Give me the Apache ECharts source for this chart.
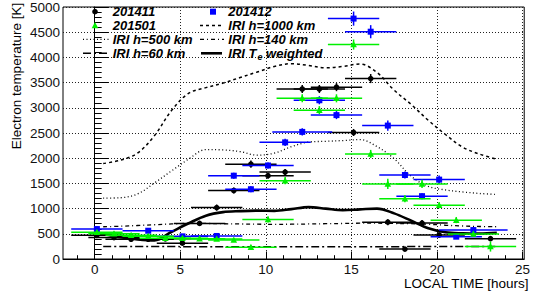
<!DOCTYPE html>
<html><head><meta charset="utf-8">
<script src="https://cdn.jsdelivr.net/npm/echarts@6.0.0/dist/echarts.min.js"></script>
<style>html,body{margin:0;padding:0;background:#fff}#c{width:533px;height:299px}</style>
</head><body><div id="c"></div><script>
// ---- data ----
const hours201411 = [0.13,1.13,2.13,3.13,4.13,5.13,6.13,7.13,8.13,9.13,10.13,11.13,12.13,13.13,14.13,15.13,16.13,17.13,18.13,19.13,20.13,23.13];
const te201411    = [470,425,392,392,400,314,706,1020,1359,1882,1653,1725,3373,3373,3410,2510,3580,731,196,712,476,404];
const xerr201411  = [1.5,1.5,1.5,1.5,1.5,1.5,1.5,1.5,1.5,1.5,1.5,1.5,1.5,1.5,1.5,1.5,1.5,1.5,1.5,1.5,1.5,1.5];
const yerr201411  = [40,40,40,40,40,40,50,60,60,70,60,60,80,80,80,70,90,60,40,60,50,50];

const hours201412 = [0.13,3.13,5.13,7.13,8.13,9.13,10.13,11.13,12.13,13.13,14.13,15.13,16.13,17.13,18.13,19.13,20.13,21.13,22.13];
const te201412    = [594,561,450,457,1653,1384,1855,2314,2522,3150,2855,4770,4510,2647,1667,1247,1575,443,574];
const xerr201412  = [1.5,1.5,1.5,1.5,1.5,1.5,1.5,1.5,1.75,1.5,1.5,1.5,1.5,1.5,1.5,1.5,1.5,1.5,2.0];
const yerr201412  = [50,50,40,40,60,60,60,70,70,80,80,140,130,100,70,60,80,40,50];

const hours201501 = [0.13,1.13,2.13,3.13,4.13,5.13,6.13,7.13,8.13,9.13,10.13,11.13,12.13,13.13,14.13,15.13,16.13,17.13,18.13,19.13,20.13,21.13,22.13,23.13];
const te201501    = [530,500,470,450,412,412,404,398,378,235,784,1555,3188,2953,3188,4255,2085,1490,1196,1490,1065,771,496,247];
const xerr201501  = [1.5,1.5,1.5,1.5,1.5,1.5,1.5,1.5,1.5,1.5,1.5,1.5,1.5,1.5,1.5,1.5,1.5,1.5,1.5,1.5,1.5,1.5,1.5,1.5];
const yerr201501  = [40,40,40,40,40,40,40,40,40,40,60,70,80,80,80,100,80,100,70,80,60,60,50,100];

const iriHours   = [0.5,1.5,2.5,3.5,4.5,5.5,6.5,7.5,8.5,9.5,10.5,11.5,12.5,13.5,14.5,15.5,16.5,17.5,18.5,19.5,20.5,21.5,22.5,23.5];
const iri1000    = [1894,1960,2100,2450,2950,3290,3400,3490,3600,3710,3820,3875,3840,3795,3820,3870,3700,3350,3065,2750,2470,2220,2080,1980];
const iri500     = [1208,1215,1290,1510,1750,1985,2170,2165,2130,2060,2100,2230,2320,2335,2350,2370,2230,1990,1640,1440,1370,1330,1300,1280];
const iri140     = [640,650,665,680,695,705,705,700,695,690,688,690,695,700,705,710,710,705,700,690,670,655,645,640];
const iri60      = [248,247,247,246,246,245,245,245,245,245,245,245,245,245,245,245,245,245,246,246,247,247,248,248];
const iriWeighted= [496,430,390,370,540,710,860,930,950,960,955,990,1030,1000,970,985,1000,905,760,610,530,510,505,520];

const xMajorTicks = [0,5,10,15,20,25];
const xMinorTicks = [-1,1,2,3,4,6,7,8,9,11,12,13,14,16,17,18,19,21,22,23,24];

// ---- chart ----
const FF = '"Liberation Sans", Arial, sans-serif';
const GREEN = '#00f000';
const pairs = (xs, ys) => xs.map((x, i) => [x, ys[i]]);

function errSeries(name, xs, ys, exs, eys, color, shape, z) {
  return {
    type: 'custom', name, z,
    xAxisIndex: 0, yAxisIndex: 0,
    encode: { x: 0, y: 1 },
    data: xs.map((x, i) => [x, ys[i], exs[i], eys[i]]),
    renderItem(params, api) {
      const x = api.value(0), y = api.value(1), ex = api.value(2), ey = api.value(3);
      const c = api.coord([x, y]);
      const l = api.coord([x - ex, y]), r = api.coord([x + ex, y]);
      const t = api.coord([x, y + ey]), b = api.coord([x, y - ey]);
      const ls = { stroke: color, lineWidth: 1.5 };
      const ch = [
        { type: 'line', shape: { x1: l[0], y1: c[1], x2: r[0], y2: c[1] }, style: ls },
        { type: 'line', shape: { x1: c[0], y1: t[1], x2: c[0], y2: b[1] }, style: ls }
      ];
      if (shape === 'circle') ch.push({ type: 'circle', shape: { cx: c[0], cy: c[1], r: 2.8 }, style: { fill: color } });
      else if (shape === 'square') ch.push({ type: 'rect', shape: { x: c[0] - 3, y: c[1] - 3, width: 6, height: 6 }, style: { fill: color } });
      else ch.push({ type: 'polygon', shape: { points: [[c[0], c[1] - 3.5], [c[0] - 3.3, c[1] + 2.8], [c[0] + 3.3, c[1] + 2.8]] }, style: { fill: color } });
      return { type: 'group', children: ch };
    }
  };
}

function lineSeries(name, ys, dash, width) {
  return {
    type: 'line', name, data: pairs(iriHours, ys), symbol: 'none', smooth: 0.35,
    xAxisIndex: 0, yAxisIndex: 0, z: 2,
    lineStyle: { color: '#000', width, type: dash }
  };
}

const legFont = { fontFamily: FF, fontSize: 13, fontWeight: 'bold', fontStyle: 'italic', fill: '#000' };
function legText(x, y, text) {
  return { type: 'text', x, y, z: 100, style: Object.assign({ text, align: 'left', verticalAlign: 'middle' }, legFont) };
}
function legLine(x1, x2, y, dash, w) {
  return { type: 'line', z: 100, shape: { x1, y1: y, x2, y2: y }, style: { stroke: '#000', lineWidth: w, lineDash: dash } };
}
const R = [11.7, 25.5, 39.3, 53.3];

const option = {
  animation: false,
  backgroundColor: '#fff',
  grid: { left: 63, right: 3, top: 4, bottom: 40, show: true, borderColor: '#000', borderWidth: 1, containLabel: false },
  xAxis: [
    {
      type: 'value', min: -1.85, max: 25.1, position: 'bottom',
      axisLine: { show: true, onZero: false, lineStyle: { color: '#000', width: 1 } },
      axisTick: { show: true, inside: true, length: 7.5, customValues: xMajorTicks, lineStyle: { color: '#000' } },
      axisLabel: { customValues: xMajorTicks, fontSize: 13.5, fontFamily: FF, color: '#111', margin: 3, formatter: v => String(v) },
      splitLine: { show: true, lineStyle: { color: '#222', type: [1, 2], width: 1 } }
    },
    {
      type: 'value', min: -1.85, max: 25.1, position: 'bottom',
      axisLine: { show: false, onZero: false },
      axisTick: { show: true, inside: true, length: 3.8, customValues: xMinorTicks, lineStyle: { color: '#000' } },
      axisLabel: { show: false },
      splitLine: { show: false }
    }
  ],
  yAxis: {
    type: 'value', min: 0, max: 5000, interval: 500,
    axisLine: { show: true, lineStyle: { color: '#000', width: 1 } },
    axisTick: { show: true, inside: true, length: 14, lineStyle: { color: '#000' } },
    minorTick: { show: true, splitNumber: 5, length: 7, lineStyle: { color: '#000' } },
    axisLabel: { fontSize: 13.5, fontFamily: FF, color: '#111', margin: 3, formatter: v => String(v) },
    splitLine: { show: true, lineStyle: { color: '#222', type: [1, 2], width: 1 } }
  },
  series: [
    lineSeries('IRI h=1000 km', iri1000, [3, 3], 1.5),
    lineSeries('IRI h=500 km', iri500, [1, 2.5], 1.3),
    lineSeries('IRI h=140 km', iri140, [4, 3, 1, 3], 1.3),
    lineSeries('IRI h=60 km', iri60, [8, 3, 2, 3], 1.5),
    lineSeries('IRI Te weighted', iriWeighted, 'solid', 2.6),
    errSeries('201411', hours201411, te201411, xerr201411, yerr201411, '#000000', 'circle', 5),
    errSeries('201412', hours201412, te201412, xerr201412, yerr201412, '#0000ff', 'square', 6),
    errSeries('201501', hours201501, te201501, xerr201501, yerr201501, GREEN, 'triangle', 7)
  ],
  graphic: [
    { type: 'text', x: 16, y: 76, rotation: Math.PI / 2, style: { text: 'Electron temperature [K]', fontFamily: FF, fontSize: 13.5, fill: '#000', align: 'center', verticalAlign: 'middle' } },
    { type: 'text', x: 528.5, y: 283.5, style: { text: 'LOCAL TIME [hours]', fontFamily: FF, fontSize: 13.5, fill: '#000', align: 'right', verticalAlign: 'middle' } },
    // legend column 1
    { type: 'circle', z: 100, shape: { cx: 95, cy: R[0], r: 2.8 }, style: { fill: '#000' } },
    legText(112.7, R[0], '201411'),
    { type: 'polygon', z: 100, shape: { points: [[95, R[1] - 3.5], [91.7, R[1] + 2.8], [98.3, R[1] + 2.8]] }, style: { fill: GREEN } },
    legText(112.7, R[1], '201501'),
    legLine(83, 109, R[2], [1, 2.5], 1.3),
    legText(112.7, R[2], 'IRI h=500 km'),
    legLine(83, 109, R[3], [8, 3, 2, 3], 1.5),
    legText(112.7, R[3], 'IRI h=60 km'),
    // legend column 2
    { type: 'rect', z: 100, shape: { x: 210, y: R[0] - 3, width: 6, height: 6 }, style: { fill: '#0000ff' } },
    legText(228.3, R[0], '201412'),
    legLine(200, 224, R[1], [3, 3], 1.5),
    legText(228.3, R[1], 'IRI h=1000 km'),
    legLine(200, 224, R[2], [4, 3, 1, 3], 1.3),
    legText(228.3, R[2], 'IRI h=140 km'),
    legLine(201, 222, R[3], null, 2.6),
    { type: 'text', x: 228.3, y: R[3], z: 100, style: Object.assign({
        text: '{n|IRI T}{s|e}{n| weighted}', align: 'left', verticalAlign: 'middle',
        rich: { n: Object.assign({}, legFont), s: Object.assign({}, legFont, { fontSize: 9, padding: [7, 0, 0, 1] }) }
      }, legFont) }
  ]
};

const chart = echarts.init(document.getElementById('c'), null, { renderer: 'svg', width: 533, height: 299 });
chart.setOption(option);
</script></body></html>
